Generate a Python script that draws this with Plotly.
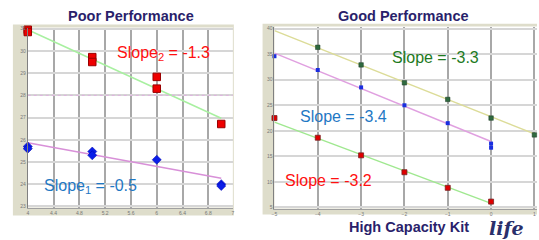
import plotly.graph_objects as go

W, H = 539, 240

# ---- Poor performance panel data ----
poor_red_x = [4, 4, 5, 5, 6, 6, 7]
poor_red_y = [30.95, 30.85, 29.72, 29.5, 28.83, 28.3, 26.71]
poor_blue_x = [4, 4, 5, 5, 6, 7, 7]
poor_blue_y = [25.7, 25.6, 25.47, 25.3, 25.1, 24.0, 23.92]
poor_fit2_x = [4, 7]
poor_fit2_y = [30.95, 26.97]
poor_fit1_x = [4, 7]
poor_fit1_y = [25.87, 24.27]
poor_xticks = [4, 4.4, 4.8, 5.2, 5.6, 6, 6.4, 6.8, 7.18]
poor_xtick_text = ["4", "4.4", "4.8", "5.2", "5.6", "6", "6.4", "6.8", "7"]
poor_yticks = [23, 24, 25, 26, 27, 28, 29, 30, 31]

# ---- Good performance panel data ----
good_green_x = [-4, -3, -2, -1, 0, 1]
good_green_y = [36.35, 32.9, 29.4, 26.15, 22.5, 19.2]
good_green_fit_x = [-5, 1]
good_green_fit_y = [39.6, 19.4]
good_blue_x = [-5, -4, -3, -2, -1, 0, 0]
good_blue_y = [34.6, 31.9, 28.5, 25.0, 21.5, 17.5, 16.7]
good_blue_fit_x = [-5, 0]
good_blue_fit_y = [35.2, 17.9]
good_red_x = [-5, -4, -3, -2, -1, 0]
good_red_y = [22.5, 18.65, 15.2, 11.9, 8.85, 6.15]
good_red_fit_x = [-5, 0]
good_red_fit_y = [21.7, 5.8]
good_xticks = [-5, -4, -3, -2, -1, 0, 1]
good_yticks = [5, 10, 15, 20, 25, 30, 35, 40]

def px(x):
    return x / W

def py(y):
    return (H - y) / H

fig = go.Figure()

# Left panel traces
fig.add_trace(go.Scatter(x=poor_fit2_x, y=poor_fit2_y, mode="lines",
                         line=dict(color="#a8f0a0", width=1.5), xaxis="x", yaxis="y"))
fig.add_trace(go.Scatter(x=poor_fit1_x, y=poor_fit1_y, mode="lines",
                         line=dict(color="#d890d8", width=1.5), xaxis="x", yaxis="y"))
fig.add_trace(go.Scatter(x=poor_red_x, y=poor_red_y, mode="markers", cliponaxis=False,
                         marker=dict(symbol="square", size=7.5, color="#ee0000",
                                     line=dict(color="#990000", width=1)),
                         xaxis="x", yaxis="y"))
fig.add_trace(go.Scatter(x=poor_blue_x, y=poor_blue_y, mode="markers", cliponaxis=False,
                         marker=dict(symbol="diamond", size=7, color="#0a1ee8",
                                     line=dict(color="#0000aa", width=0.5)),
                         xaxis="x", yaxis="y"))

# Right panel traces
fig.add_trace(go.Scatter(x=good_green_fit_x, y=good_green_fit_y, mode="lines",
                         line=dict(color="#dcdc98", width=1.5), xaxis="x2", yaxis="y2"))
fig.add_trace(go.Scatter(x=good_blue_fit_x, y=good_blue_fit_y, mode="lines",
                         line=dict(color="#e0a0e0", width=1.5), xaxis="x2", yaxis="y2"))
fig.add_trace(go.Scatter(x=good_red_fit_x, y=good_red_fit_y, mode="lines",
                         line=dict(color="#a0e890", width=1.5), xaxis="x2", yaxis="y2"))
fig.add_trace(go.Scatter(x=good_green_x, y=good_green_y, mode="markers", cliponaxis=False,
                         marker=dict(symbol="square", size=4.5, color="#2f6a3f",
                                     line=dict(color="#1a3a22", width=0.5)),
                         xaxis="x2", yaxis="y2"))
fig.add_trace(go.Scatter(x=good_blue_x, y=good_blue_y, mode="markers", cliponaxis=False,
                         marker=dict(symbol="square", size=4, color="#1a2ee0"),
                         xaxis="x2", yaxis="y2"))
fig.add_trace(go.Scatter(x=good_red_x, y=good_red_y, mode="markers", cliponaxis=False,
                         marker=dict(symbol="square", size=5, color="#e00000",
                                     line=dict(color="#7a2020", width=0.8)),
                         xaxis="x2", yaxis="y2"))

tickfont = dict(family="Arial, Liberation Sans, sans-serif", size=5, color="#777777")

axis_common = dict(showgrid=True, zeroline=False, showline=True, linecolor="#a0a0a0",
                   linewidth=1, ticks="", tickfont=tickfont, fixedrange=True)

fig.update_layout(
    width=W, height=H,
    margin=dict(l=0, r=0, t=0, b=0),
    paper_bgcolor="white",
    plot_bgcolor="white",
    showlegend=False,
    hovermode=False,
    xaxis=dict(domain=[px(25), px(232)], range=[4, 7.18], tickmode="array",
               tickvals=poor_xticks, ticktext=poor_xtick_text,
               gridcolor="#a8a8a8", gridwidth=2, anchor="y", **axis_common),
    yaxis=dict(domain=[py(209), py(26)], range=[22.95, 31.05], tickmode="array",
               tickvals=poor_yticks, gridcolor="#d6d6d6", gridwidth=2,
               anchor="x", **axis_common),
    xaxis2=dict(domain=[px(274), 1.0], range=[-5, 1.06], tickmode="array",
                tickvals=good_xticks, gridcolor="#a8a8a8", gridwidth=2,
                anchor="y2", **axis_common),
    yaxis2=dict(domain=[py(210), py(25)], range=[4.8, 40.4], tickmode="array",
                tickvals=good_yticks, gridcolor="#d6d6d6", gridwidth=2,
                anchor="x2", **axis_common),
)
fig.update_yaxes(linecolor="#808080")

# Beige frames behind the panels, with white plot areas on top
frame_col = "#deddcb"
fig.add_shape(type="rect", xref="paper", yref="paper", layer="below",
              x0=px(10), x1=px(233), y0=py(217), y1=py(23),
              fillcolor=frame_col, line=dict(width=0))
fig.add_shape(type="rect", xref="paper", yref="paper", layer="below",
              x0=px(262), x1=1.0, y0=py(216), y1=py(22),
              fillcolor=frame_col, line=dict(width=0))
fig.add_shape(type="rect", xref="paper", yref="paper", layer="below",
              x0=px(25), x1=px(232), y0=py(209), y1=py(26),
              fillcolor="white", line=dict(width=0))
fig.add_shape(type="rect", xref="paper", yref="paper", layer="below",
              x0=px(274), x1=1.0, y0=py(210), y1=py(25),
              fillcolor="white", line=dict(width=0))
# faint dotted line on left panel
fig.add_shape(type="line", xref="x", yref="y", x0=4, x1=7.18, y0=28, y1=28,
              line=dict(color="#e0b0e0", width=1, dash="dot"))

title_font = dict(family="Arial, Liberation Sans, sans-serif", size=14.5, color="#2a1f6b")
slope_font = "Arial, Liberation Sans, sans-serif"

def ann(x, y, text, font, xanchor="center"):
    fig.add_annotation(x=px(x), y=py(y), xref="paper", yref="paper", text=text,
                       showarrow=False, font=font, xanchor=xanchor, yanchor="middle")

ann(129.5, 14, "<b>Poor Performance</b>", title_font)
ann(404, 14, "<b>Good Performance</b>", title_font)
ann(410, 229, "<b>High Capacity Kit</b>", title_font)
ann(508, 230, "<b><i>life</i></b>", dict(family="DejaVu Serif, serif", size=19, color="#2a2f6b"))

ann(162, 52, "Slope<sub>2</sub> = -1.3", dict(family=slope_font, size=16, color="#ff1010"))
ann(88, 188, "Slope<sub>1</sub> = -0.5", dict(family=slope_font, size=16, color="#1f78c4"))
ann(437, 56, "Slope = -3.3", dict(family=slope_font, size=16, color="#1e7a1e"))
ann(344, 116, "Slope = -3.4", dict(family=slope_font, size=16, color="#1f78c4"))
ann(329, 182, "Slope = -3.2", dict(family=slope_font, size=16, color="#ff1010"))

fig.write_html("out.html", config={"displayModeBar": False, "staticPlot": True},
               post_script="document.body.style.margin='0';document.body.style.padding='0';"
                           "document.documentElement.style.overflow='hidden';")
